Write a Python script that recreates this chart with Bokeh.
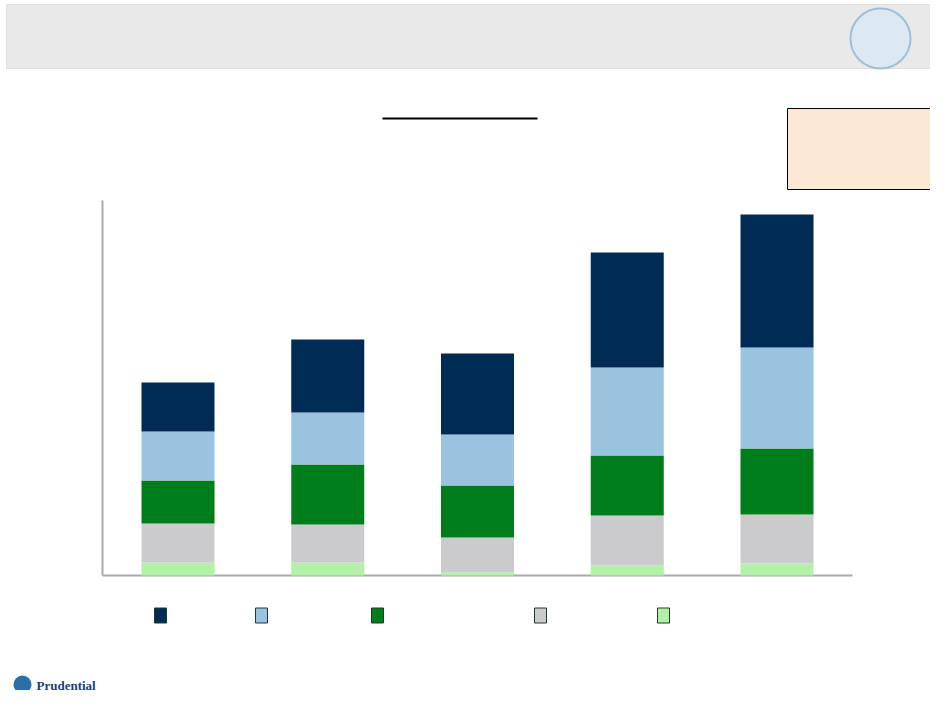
from bokeh.plotting import figure
from bokeh.models import Range1d
from bokeh.embed import file_html
from bokeh.resources import INLINE
from bokeh.core.properties import value

categories = ["A", "B", "C", "D", "E"]
s_light_green = [13, 13, 3, 10, 12]
s_gray = [39, 38, 35, 50, 49]
s_green = [43, 60, 52, 60, 66]
s_light_blue = [49, 52, 51, 88, 101]
s_navy = [49, 73, 81, 115, 133]
series = [s_light_green, s_gray, s_green, s_light_blue, s_navy]
colors = ["#b3f0a8", "#cbcbcd", "#007d1b", "#99c3de", "#002b55"]
legend_colors = ["#002b55", "#99c3de", "#007d1b", "#cbcbcd", "#b3f0a8"]
legend_x = [160, 261, 377, 540, 663]

W, H = 930, 690
p = figure(width=W, height=H, output_backend="svg", toolbar_location=None,
           x_range=Range1d(0, W), y_range=Range1d(H, 0),
           min_border=0, outline_line_color=None)
p.axis.visible = False
p.grid.visible = False

# header band
p.quad(left=6, right=940, top=4, bottom=68, fill_color="#e9e9e9", line_color="#e0e0e0")
p.circle(x=[880], y=[38], radius=30, fill_color="#dce8f2", line_color="#9fbfd9", line_width=2)

# title underline and orange box
p.line(x=[382, 537], y=[118, 118], line_color="black", line_width=2)
p.quad(left=787, right=934, top=108, bottom=189, fill_color="#fbe9d3", line_color="black")

# axes
base = 575
p.line(x=[102, 102], y=[200, base], line_color="#aaaaaa", line_width=2)
p.line(x=[102, 852], y=[base, base], line_color="#aaaaaa", line_width=2)

centers = [177.5 + 149.75 * i for i in range(len(categories))]
bottoms = [0] * len(categories)
for vals, c in zip(series, colors):
    p.vbar(x=centers, width=73, bottom=[base - b for b in bottoms],
           top=[base - b - v for b, v in zip(bottoms, vals)], fill_color=c, line_color=None)
    bottoms = [b + v for b, v in zip(bottoms, vals)]

# legend squares
p.rect(x=legend_x, y=[615] * 5, width=12, height=15, fill_color=legend_colors,
       line_color="#1f3a2a")

# logo
p.circle(x=[22], y=[684], radius=9, fill_color="#2a6fa8", line_color=None)
p.text(x=[36], y=[685], text=["Prudential"], text_font=value("Liberation Serif"),
       text_font_style="bold", text_font_size="13px", text_color="#1a3f73",
       text_baseline="middle")

open("out.html", "w").write(file_html(p, INLINE))
